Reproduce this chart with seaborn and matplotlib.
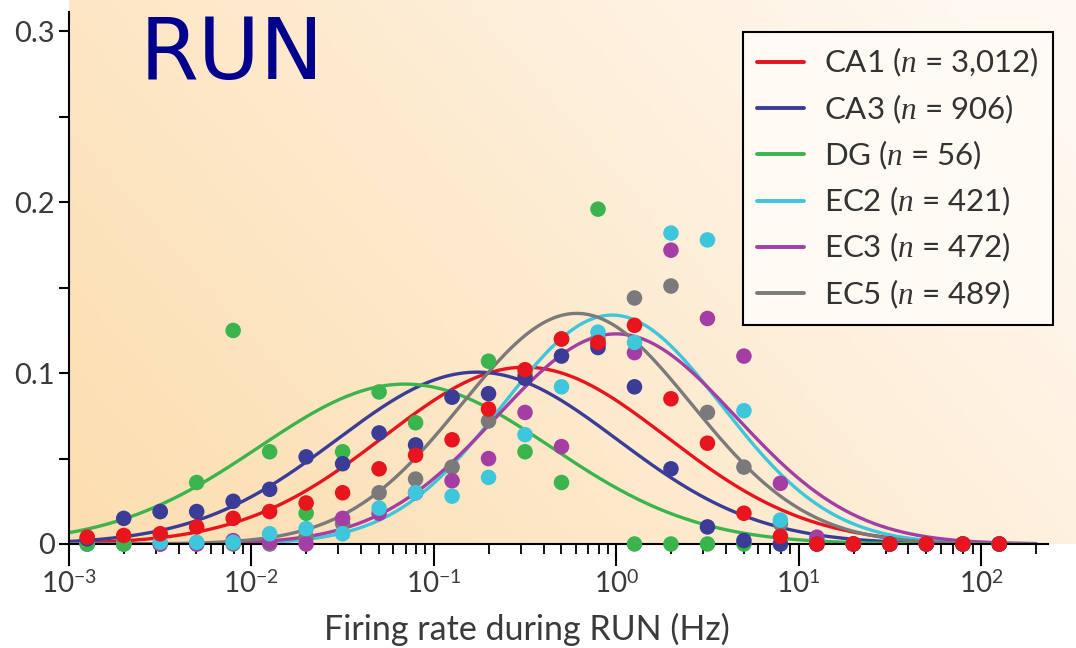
import numpy as np
import pandas as pd
import matplotlib
matplotlib.use("Agg")
import matplotlib.pyplot as plt
import seaborn as sns
from matplotlib.colors import to_rgb
from matplotlib.lines import Line2D
from matplotlib.ticker import FixedLocator, FuncFormatter, LogLocator

# ---------------- data ----------------
regions = ["CA1", "CA3", "DG", "EC2", "EC3", "EC5"]
counts = ["3,012", "906", "56", "421", "472", "489"]
colors = ["#e8141e", "#3b3b98", "#3cb44e", "#3ec6dc", "#a43ea4", "#7a7a7a"]

# bin centres (log10 of firing rate in Hz)
bin_log10 = [-2.9, -2.7, -2.5, -2.3, -2.1, -1.9, -1.7, -1.5, -1.3, -1.1,
             -0.9, -0.7, -0.5, -0.3, -0.1, 0.1, 0.3, 0.5, 0.7, 0.9,
             1.1, 1.3, 1.5, 1.7, 1.9, 2.1]

ca1 = [0.004, 0.005, 0.006, 0.010, 0.015, 0.019, 0.024, 0.030, 0.044, 0.052,
       0.061, 0.079, 0.102, 0.120, 0.118, 0.128, 0.085, 0.059, 0.018, 0.0045,
       0.0, 0.0, 0.0, 0.0, 0.0, 0.0]
ca3 = [0.003, 0.015, 0.019, 0.019, 0.025, 0.032, 0.051, 0.047, 0.065, 0.058,
       0.086, 0.088, 0.097, 0.110, 0.115, 0.092, 0.044, 0.010, 0.002, 0.0,
       0.0, 0.0, 0.0, 0.0, 0.0, 0.0]
dg = [0.0, 0.0, 0.019, 0.036, 0.125, 0.054, 0.018, 0.054, 0.089, 0.071,
      0.086, 0.107, 0.054, 0.036, 0.196, 0.0, 0.0, 0.0, 0.0, 0.0,
      0.0, 0.0, 0.0, 0.0, 0.0, 0.0]
ec2 = [0.0, 0.0, 0.001, 0.001, 0.001, 0.006, 0.009, 0.006, 0.021, 0.030,
       0.028, 0.039, 0.064, 0.092, 0.124, 0.118, 0.182, 0.178, 0.078, 0.014,
       0.0, 0.0, 0.0, 0.0, 0.0, 0.0]
ec3 = [0.0, 0.0, 0.0, 0.0, 0.002, 0.001, 0.0, 0.015, 0.018, 0.030,
       0.037, 0.050, 0.077, 0.057, 0.117, 0.112, 0.172, 0.132, 0.110, 0.0355,
       0.004, 0.0, 0.0, 0.0, 0.0, 0.0]
ec5 = [0.0, 0.0, 0.0, 0.0, 0.0, 0.0, 0.004, 0.012, 0.030, 0.038,
       0.045, 0.072, 0.099, 0.120, 0.120, 0.144, 0.151, 0.077, 0.045, 0.012,
       0.002, 0.0, 0.0, 0.0, 0.0, 0.0]
series = [ca1, ca3, dg, ec2, ec3, ec5]

# log-normal fits: peak height, centre (log10 Hz), width (decades)
fit_peak = [0.1035, 0.1006, 0.0936, 0.134, 0.123, 0.135]
fit_center_log10 = [-0.50, -0.763, -1.158, -0.023, 0.0, -0.217]
fit_width = [0.775, 0.77, 0.80, 0.60, 0.655, 0.63]

xtick_exp = [-3, -2, -1, 0, 1, 2]
yticks = [0.0, 0.1, 0.2, 0.3]

# ---------------- tables ----------------
rows = []
for reg, vals in reversed(list(zip(regions, series))):  # CA1 drawn last (on top)
    for e, v in zip(bin_log10, vals):
        rows.append({"rate": 10 ** e, "frac": v, "region": reg})
pts = pd.DataFrame(rows)

grid = np.logspace(-3, np.log10(200), 400)
crows = []
for reg, a, m, s in zip(regions, fit_peak, fit_center_log10, fit_width):
    yv = a * np.exp(-(np.log10(grid) - m) ** 2 / (2 * s ** 2))
    crows.append(pd.DataFrame({"rate": grid, "frac": yv, "region": reg}))
curves = pd.concat(crows, ignore_index=True)

palette = dict(zip(regions, colors))

# ---------------- figure ----------------
sns.set_theme(style="ticks")
plt.rcParams["font.family"] = ["Lato", "DejaVu Sans"]
plt.rcParams["mathtext.fontset"] = "custom"
plt.rcParams["mathtext.rm"] = "Lato"
plt.rcParams["mathtext.it"] = "Liberation Serif:italic"

W, H = 1076, 648
fig = plt.figure(figsize=(W / 100, H / 100), dpi=100)
fig.patch.set_facecolor("white")

# background gradient
bg = fig.add_axes([69 / W, 1 - 544 / H, 1 - 69 / W, 544 / H], zorder=0)
nx, ny = 300, 150
xx = np.linspace(0, 1, nx)[None, :]
yy = np.linspace(0, 1, ny)[:, None]
t = np.clip(0.75 * xx + 0.35 * yy, 0, 1) ** 1.1
c0 = np.array(to_rgb("#fcdeb0"))
c1 = np.array(to_rgb("#fff8f0"))
img = c0 * (1 - t[..., None]) + c1 * t[..., None]
bg.imshow(img, origin="lower", aspect="auto", extent=[0, 1, 0, 1])
bg.axis("off")

ax = fig.add_axes([69 / W, 1 - 544 / H, (1048 - 69) / W, (544 - 12) / H], zorder=1)
ax.patch.set_alpha(0)
ax.set_xscale("log")

sns.lineplot(data=curves, x="rate", y="frac", hue="region", hue_order=regions,
             palette=palette, linewidth=2.4, estimator=None, sort=False,
             legend=False, ax=ax, zorder=2)
sns.scatterplot(data=pts, x="rate", y="frac", hue="region", palette=palette,
                s=125, edgecolor="none", linewidth=0, legend=False, ax=ax,
                clip_on=False, zorder=3)

ax.set_xlim(1e-3, 10 ** 2.367)
ax.set_ylim(0, 0.3114)

# axes styling
for side in ["top", "right"]:
    ax.spines[side].set_visible(False)
for side in ["left", "bottom"]:
    ax.spines[side].set_color("black")
    ax.spines[side].set_linewidth(1.5)

ax.xaxis.set_major_locator(FixedLocator([10.0 ** e for e in xtick_exp]))
ax.xaxis.set_major_formatter(FuncFormatter(lambda v, p: r"$10^{%d}$" % round(np.log10(v))))
ax.xaxis.set_minor_locator(LogLocator(base=10, subs=np.arange(2, 10), numticks=20))
ax.yaxis.set_major_locator(FixedLocator(yticks))
ax.yaxis.set_minor_locator(FixedLocator([0.05, 0.15, 0.25]))
ax.yaxis.set_major_formatter(FuncFormatter(lambda v, p: "0" if v == 0 else "%.1f" % v))

ax.tick_params(axis="x", which="major", direction="out", length=16, width=1.5,
               labelsize=20, colors="black", labelcolor="#3a3a3a", pad=3)
ax.tick_params(axis="x", which="minor", direction="out", length=7, width=1.3, colors="black")
ax.tick_params(axis="y", which="both", direction="out", length=7, width=1.5,
               labelsize=21, colors="black", labelcolor="#3a3a3a", pad=3)

ax.set_xlabel("Firing rate during RUN (Hz)", fontsize=24.5, color="#3a3a3a", labelpad=6)
ax.xaxis.set_label_coords((527 - 69) / 979, -0.13)
ax.set_ylabel("")

# legend
handles = [Line2D([0], [0], color=c, lw=2.8) for c in colors]
labels = [f"{r} ($n$ = {n})" for r, n in zip(regions, counts)]
leg = ax.legend(handles, labels, loc="upper right", bbox_to_anchor=(1.005, 0.962),
                borderaxespad=0, fontsize=22.5, frameon=True, fancybox=False,
                framealpha=1, facecolor="#fffbf4", edgecolor="black",
                handlelength=1.5, handletextpad=0.65, labelspacing=0.42,
                borderpad=0.45)
leg.get_frame().set_linewidth(1.5)
for txt in leg.get_texts():
    txt.set_color("#333333")

fig.text(140 / W, 1 - 55 / H, "RUN", fontsize=61, color="#00008c",
         ha="left", va="center", family="DejaVu Sans")

fig.savefig("out.png", dpi=100)
